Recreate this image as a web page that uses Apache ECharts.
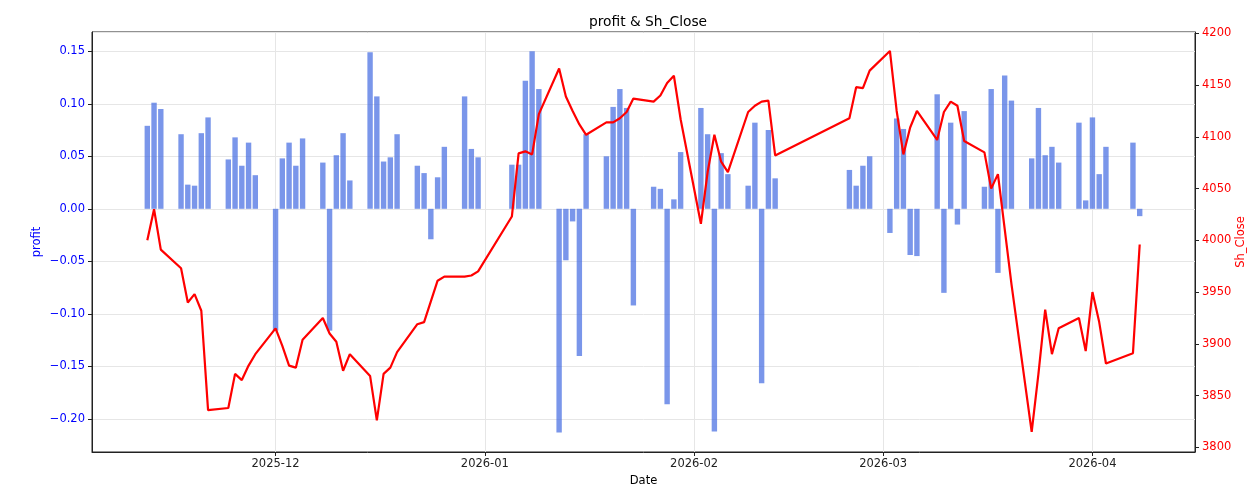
<!DOCTYPE html>
<html>
<head>
<meta charset="utf-8">
<title>profit & Sh_Close</title>
<script src="https://cdn.jsdelivr.net/npm/echarts@6/dist/echarts.min.js"></script>
<style>
  html, body { margin: 0; padding: 0; background: #fff; }
  #chart { width: 1255px; height: 500px; }
</style>
</head>
<body>
<div id="chart"></div>
<script>
// trading days
const dates = [
  '2025-11-12', '2025-11-13', '2025-11-14', '2025-11-17', '2025-11-18', '2025-11-19', '2025-11-20', '2025-11-21',
  '2025-11-24', '2025-11-25', '2025-11-26', '2025-11-27', '2025-11-28',
  '2025-12-01', '2025-12-02', '2025-12-03', '2025-12-04', '2025-12-05',
  '2025-12-08', '2025-12-09', '2025-12-10', '2025-12-11', '2025-12-12',
  '2025-12-15', '2025-12-16', '2025-12-17', '2025-12-18', '2025-12-19',
  '2025-12-22', '2025-12-23', '2025-12-24', '2025-12-25', '2025-12-26',
  '2025-12-29', '2025-12-30', '2025-12-31',
  '2026-01-05', '2026-01-06', '2026-01-07', '2026-01-08', '2026-01-09',
  '2026-01-12', '2026-01-13', '2026-01-14', '2026-01-15', '2026-01-16',
  '2026-01-19', '2026-01-20', '2026-01-21', '2026-01-22', '2026-01-23',
  '2026-01-26', '2026-01-27', '2026-01-28', '2026-01-29', '2026-01-30',
  '2026-02-02', '2026-02-03', '2026-02-04', '2026-02-05', '2026-02-06',
  '2026-02-09', '2026-02-10', '2026-02-11', '2026-02-12', '2026-02-13',
  '2026-02-24', '2026-02-25', '2026-02-26', '2026-02-27',
  '2026-03-02', '2026-03-03', '2026-03-04', '2026-03-05', '2026-03-06',
  '2026-03-09', '2026-03-10', '2026-03-11', '2026-03-12', '2026-03-13',
  '2026-03-16', '2026-03-17', '2026-03-18', '2026-03-19', '2026-03-20',
  '2026-03-23', '2026-03-24', '2026-03-25', '2026-03-26', '2026-03-27',
  '2026-03-30', '2026-03-31', '2026-04-01', '2026-04-02', '2026-04-03',
  '2026-04-07', '2026-04-08'
];

// 日收益 (左轴)
const profit = [
  0.079, 0.101, 0.095, 0.071, 0.023, 0.022, 0.072, 0.087,
  0.047, 0.068, 0.041, 0.063, 0.032,
  -0.116, 0.048, 0.063, 0.041, 0.067,
  0.044, -0.116, 0.051, 0.072, 0.027,
  0.149, 0.107, 0.045, 0.049, 0.071,
  0.041, 0.034, -0.029, 0.030, 0.059,
  0.107, 0.057, 0.049,
  0.042, 0.042, 0.122, 0.150, 0.114,
  -0.213, -0.049, -0.012, -0.140, 0.071,
  0.050, 0.097, 0.114, 0.096, -0.092,
  0.021, 0.019, -0.186, 0.009, 0.054,
  0.096, 0.071, -0.212, 0.053, 0.033,
  0.022, 0.082, -0.166, 0.075, 0.029,
  0.037, 0.022, 0.041, 0.050,
  -0.023, 0.086, 0.076, -0.044, -0.045,
  0.109, -0.080, 0.082, -0.015, 0.093,
  0.021, 0.114, -0.061, 0.127, 0.103,
  0.048, 0.096, 0.051, 0.059, 0.044,
  0.082, 0.008, 0.087, 0.033, 0.059,
  0.063, -0.007
];

// 上证收盘 (右轴)
const shClose = [
  4000, 4030, 3991, 3973, 3940, 3948, 3932, 3836,
  3838, 3871, 3865, 3879, 3890,
  3915, 3898, 3879, 3877, 3904,
  3925, 3910, 3902, 3874, 3890,
  3869, 3826, 3871, 3877, 3892,
  3919, 3921, 3941, 3961, 3965,
  3965, 3966, 3970,
  4023, 4084, 4086, 4083, 4122,
  4166, 4139, 4125, 4112, 4102,
  4114, 4114, 4118, 4124, 4137,
  4134, 4140, 4152, 4159, 4117,
  4016, 4066, 4102, 4076, 4066,
  4124, 4130, 4134, 4135, 4082,
  4118, 4148, 4147, 4164,
  4183, 4125, 4083, 4109, 4125,
  4097, 4124, 4134, 4130, 4096,
  4085, 4050, 4064, 4011, 3958,
  3815, 3871, 3933, 3890, 3915,
  3925, 3893, 3950, 3921, 3881,
  3891, 3996
];

// 刻度
const profitTicks = [-0.20, -0.15, -0.10, -0.05, 0.00, 0.05, 0.10, 0.15];
const closeTicks = [3800, 3850, 3900, 3950, 4000, 4050, 4100, 4150, 4200];

const FONT = 'DejaVu Sans';
const DAY = 86400000;

const myChart = echarts.init(document.getElementById('chart'));

function tickLabel(ticks, digits) {
  return function (v) {
    // 只显示刻度表里的值
    for (const t of ticks) {
      if (Math.abs(v - t) < 1e-6) return t.toFixed(digits).replace('-', '\u2212');
    }
    return '';
  };
}

myChart.setOption({
  animation: false,
  title: {
    text: 'profit & Sh_Close',
    left: 643,
    textAlign: 'center',
    top: 10,
    textStyle: { fontFamily: FONT, fontSize: 13.8, fontWeight: 'normal', color: '#000' }
  },
  grid: {
    left: 92, right: 60, top: 32, bottom: 48,
    outerBoundsMode: 'none',
    containLabel: false,
    show: true, borderColor: '#222', borderWidth: 1
  },
  xAxis: {
    type: 'time',
    min: new Date('2025-11-04T05:00:00').getTime(),
    max: new Date('2026-04-15T19:00:00').getTime(),
    minInterval: 28 * DAY,
    maxInterval: 31 * DAY,
    name: 'Date',
    nameLocation: 'middle',
    nameGap: 23,
    nameMoveOverlap: false,
    nameTextStyle: { fontFamily: FONT, fontSize: 11.5, color: '#000' },
    axisLine: { show: true, onZero: false, lineStyle: { color: '#222' } },
    axisTick: { show: true, length: 4, lineStyle: { color: '#222' } },
    axisLabel: {
      fontFamily: FONT, fontSize: 11.5, color: '#222', margin: 6,
      formatter: function (v) { return echarts.time.format(v, '{yyyy}-{MM}', false); }
    },
    splitLine: { show: true, lineStyle: { color: '#e6e6e6' } }
  },
  yAxis: [
    {
      type: 'value',
      position: 'left',
      min: -0.2315,
      max: 0.1683,
      splitNumber: 8,
      name: 'profit',
      nameLocation: 'middle',
      nameGap: 49,
      nameMoveOverlap: false,
      nameTextStyle: { fontFamily: FONT, fontSize: 11.5, color: 'blue' },
      axisLine: { show: true, onZero: false, lineStyle: { color: '#222' } },
      axisTick: { show: true, length: 4, lineStyle: { color: '#222' } },
      axisLabel: {
        fontFamily: FONT, fontSize: 11.5, color: 'blue', margin: 7,
        showMinLabel: false, showMaxLabel: false,
        formatter: tickLabel(profitTicks, 2)
      },
      splitLine: { show: true, lineStyle: { color: '#e6e6e6' } }
    },
    {
      type: 'value',
      position: 'right',
      min: 3795.5,
      max: 4201.3,
      splitNumber: 8,
      name: 'Sh_Close',
      nameLocation: 'middle',
      nameGap: 40,
      nameMoveOverlap: false,
      nameTextStyle: { fontFamily: FONT, fontSize: 11.5, color: 'red' },
      axisLine: { show: true, onZero: false, lineStyle: { color: '#222' } },
      axisTick: { show: true, length: 4, lineStyle: { color: '#222' } },
      axisLabel: {
        fontFamily: FONT, fontSize: 11.5, color: 'red', margin: 7,
        showMinLabel: false, showMaxLabel: false,
        formatter: tickLabel(closeTicks, 0)
      },
      splitLine: { show: false }
    }
  ],
  series: [
    {
      name: 'profit',
      type: 'bar',
      yAxisIndex: 0,
      barWidth: 5.4,
      itemStyle: { color: 'rgba(65,105,225,0.7)' },
      data: dates.map((d, i) => [d, profit[i]])
    },
    {
      name: 'Sh_Close',
      type: 'line',
      yAxisIndex: 1,
      showSymbol: false,
      z: 5,
      lineStyle: { color: 'red', width: 2.2 },
      itemStyle: { color: 'red' },
      data: dates.map((d, i) => [d, shClose[i]])
    }
  ]
});
</script>
</body>
</html>
